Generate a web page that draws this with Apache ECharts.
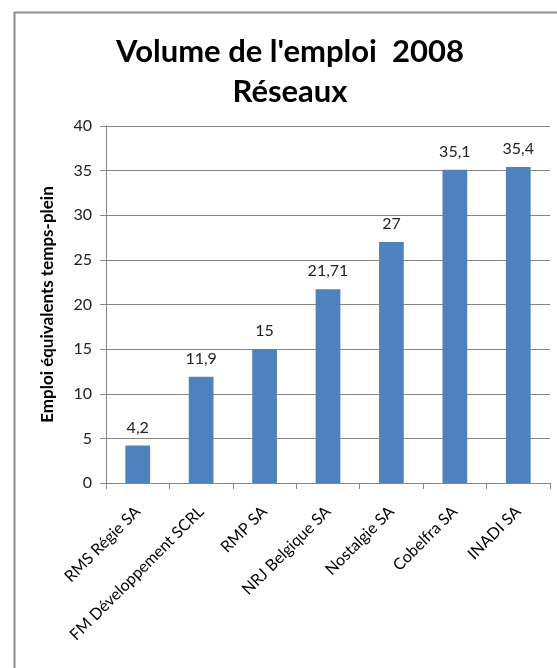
<!DOCTYPE html>
<html>
<head>
<meta charset="utf-8">
<script src="https://cdn.jsdelivr.net/npm/echarts@6/dist/echarts.min.js"></script>
<style>html,body{margin:0;padding:0;background:#fff;}#c{width:557px;height:668px;}</style>
</head>
<body>
<div id="c"></div>
<script>
const categories = ["RMS Régie SA", "FM Développement SCRL", "RMP SA", "NRJ Belgique SA", "Nostalgie SA", "Cobelfra SA", "INADI SA"];
const values = [4.2, 11.9, 15, 21.71, 27, 35.1, 35.4];
const titleLines = ["Volume de l'emploi  2008", "Réseaux"];
const yAxisName = "Emploi équivalents temps-plein";

const chart = echarts.init(document.getElementById('c'));
const font = 'Lato, "Open Sans", sans-serif';
chart.setOption({
  animation: false,
  backgroundColor: '#fff',
  graphic: [{
    type: 'rect', left: 12, top: 10,
    shape: { width: 600, height: 700 },
    style: { fill: 'none', stroke: '#8c8c8c', lineWidth: 2 }
  }],
  title: {
    text: titleLines.join('\n'),
    left: 285, top: 27, textAlign: 'center',
    textStyle: { fontFamily: font, fontWeight: 'bold', fontSize: 31, color: '#000', lineHeight: 40 }
  },
  grid: { left: 106, top: 126, width: 444, height: 357 },
  xAxis: {
    type: 'category', data: categories,
    axisLine: { lineStyle: { color: '#868686', width: 1 } },
    axisTick: { show: true, length: 6, lineStyle: { color: '#868686' } },
    axisLabel: { rotate: 45, interval: 0, margin: 26, color: '#000', fontFamily: font, fontSize: 16 }
  },
  yAxis: {
    type: 'value', min: 0, max: 40, interval: 5,
    name: yAxisName, nameLocation: 'middle', nameGap: 50,
    nameTextStyle: { fontFamily: font, fontWeight: 'bold', fontSize: 17, color: '#000' },
    axisLine: { show: true, lineStyle: { color: '#868686' } },
    axisTick: { show: true, length: 6, lineStyle: { color: '#868686' } },
    splitLine: { lineStyle: { color: '#868686', width: 1 } },
    axisLabel: { margin: 14, color: '#222', fontFamily: font, fontSize: 16 }
  },
  series: [{
    type: 'bar', data: values, barWidth: '39%',
    itemStyle: { color: '#4F81BD' },
    label: {
      show: true, position: 'top', distance: 10, color: '#222', fontFamily: font, fontSize: 16,
      formatter: p => String(p.value).replace('.', ',')
    }
  }]
});
</script>
</body>
</html>
